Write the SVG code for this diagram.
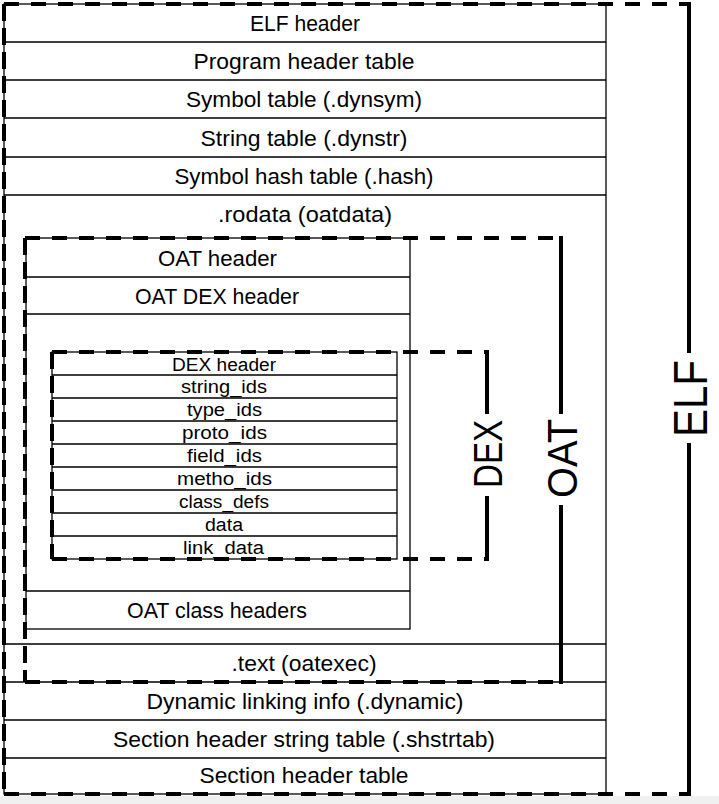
<svg xmlns="http://www.w3.org/2000/svg" width="719" height="804" viewBox="0 0 719 804">
<style>
  .t { font-family: "Liberation Sans", Arial, sans-serif; font-size: 22px; fill: #000; text-anchor: middle; }
  .s { font-family: "Liberation Sans", Arial, sans-serif; font-size: 18px; fill: #000; text-anchor: middle; }
  .lbl { font-family: "Liberation Sans", Arial, sans-serif; fill: #000; text-anchor: middle; }
  .thin { stroke: #000; stroke-width: 1.3; fill: none; }
  .dh { stroke: #000; stroke-width: 4; fill: none; stroke-dasharray: 15 12; }
  .dv { stroke: #000; stroke-width: 4; fill: none; stroke-dasharray: 17 7; }
  .solid { stroke: #000; stroke-width: 4; fill: none; stroke-linecap: square; }
</style>
<rect x="0" y="0" width="719" height="804" fill="#ffffff"/>
<rect x="0" y="796" width="719" height="8" fill="#f0f0f0"/>

<g id="elf-table">
  <rect x="4" y="4" width="602" height="790" fill="#ffffff" class="thin"/>
  <path class="thin" d="M4 42H606M4 80H606M4 118H606M4 157H606M4 195H606M4 644H606M4 682H606M4 720H606M4 758H606"/>
  <text class="t" x="305" y="31" textLength="110" lengthAdjust="spacingAndGlyphs">ELF header</text>
  <text class="t" x="304" y="69" textLength="221" lengthAdjust="spacingAndGlyphs">Program header table</text>
  <text class="t" x="304" y="107" textLength="236" lengthAdjust="spacingAndGlyphs">Symbol table (.dynsym)</text>
  <text class="t" x="304" y="145.5" textLength="207" lengthAdjust="spacingAndGlyphs">String table (.dynstr)</text>
  <text class="t" x="304" y="184" textLength="259" lengthAdjust="spacingAndGlyphs">Symbol hash table (.hash)</text>
  <text class="t" x="305" y="222" textLength="174" lengthAdjust="spacingAndGlyphs">.rodata (oatdata)</text>
  <text class="t" x="304" y="671" textLength="145" lengthAdjust="spacingAndGlyphs">.text (oatexec)</text>
  <text class="t" x="305" y="709" textLength="317" lengthAdjust="spacingAndGlyphs">Dynamic linking info (.dynamic)</text>
  <text class="t" x="304" y="747" textLength="382" lengthAdjust="spacingAndGlyphs">Section header string table (.shstrtab)</text>
  <text class="t" x="304" y="783" textLength="209" lengthAdjust="spacingAndGlyphs">Section header table</text>
</g>

<g id="oat-block">
  <rect x="26" y="238" width="384" height="391" fill="#d9d9d9" class="thin"/>
  <path class="thin" d="M26 277H410M26 314H410M26 591H410"/>
  <text class="t" x="217.5" y="265.5" textLength="119" lengthAdjust="spacingAndGlyphs">OAT header</text>
  <text class="t" x="217" y="303.5" textLength="164" lengthAdjust="spacingAndGlyphs">OAT DEX header</text>
  <text class="t" x="217" y="618" textLength="180" lengthAdjust="spacingAndGlyphs">OAT class headers</text>
</g>

<g id="dex-block">
  <rect x="52" y="352" width="345" height="207" fill="#bfbfbf" class="thin"/>
  <path class="thin" d="M52 375H397M52 398H397M52 421H397M52 444H397M52 467H397M52 490H397M52 513H397M52 536H397"/>
  <text class="s" x="224" y="371" textLength="104" lengthAdjust="spacingAndGlyphs">DEX header</text>
  <text class="s" x="224" y="393" textLength="86" lengthAdjust="spacingAndGlyphs">string_ids</text>
  <text class="s" x="224.5" y="416" textLength="75" lengthAdjust="spacingAndGlyphs">type_ids</text>
  <text class="s" x="224.5" y="439" textLength="85" lengthAdjust="spacingAndGlyphs">proto_ids</text>
  <text class="s" x="224.5" y="462" textLength="75" lengthAdjust="spacingAndGlyphs">field_ids</text>
  <text class="s" x="224.5" y="485" textLength="95" lengthAdjust="spacingAndGlyphs">metho_ids</text>
  <text class="s" x="224" y="508" textLength="90" lengthAdjust="spacingAndGlyphs">class_defs</text>
  <text class="s" x="224" y="531" textLength="38" lengthAdjust="spacingAndGlyphs">data</text>
  <text class="s" x="223.5" y="554" textLength="81" lengthAdjust="spacingAndGlyphs">link_data</text>
</g>

<g id="connectors">
  <g id="elf-bracket">
    <line class="dh" x1="4" y1="4" x2="689" y2="4"/>
    <line class="dh" x1="4" y1="794" x2="689" y2="794"/>
    <line class="dv" x1="4" y1="4" x2="4" y2="794"/>
    <line class="solid" x1="689" y1="4" x2="689" y2="351"/>
    <line class="solid" x1="689" y1="445" x2="689" y2="794"/>
    <text class="lbl" transform="translate(689.5,398.5) rotate(-90)" x="0" y="17.5" font-size="49" textLength="77" lengthAdjust="spacingAndGlyphs">ELF</text>
  </g>
  <g id="oat-bracket">
    <line class="dh" x1="25" y1="238" x2="561" y2="238"/>
    <line class="dh" x1="25" y1="682" x2="561" y2="682"/>
    <line class="dv" x1="25" y1="238" x2="25" y2="682"/>
    <line class="solid" x1="561" y1="238" x2="561" y2="412"/>
    <line class="solid" x1="561" y1="507" x2="561" y2="682"/>
    <text class="lbl" transform="translate(561,458.5) rotate(-90)" x="0" y="15.5" font-size="43" textLength="79" lengthAdjust="spacingAndGlyphs">OAT</text>
  </g>
  <g id="dex-bracket">
    <line class="dh" x1="52" y1="352" x2="487" y2="352"/>
    <line class="dh" x1="52" y1="559" x2="487" y2="559"/>
    <line class="dv" x1="52" y1="352" x2="52" y2="559"/>
    <line class="solid" x1="487" y1="352" x2="487" y2="412"/>
    <line class="solid" x1="487" y1="498" x2="487" y2="559"/>
    <text class="lbl" transform="translate(487.5,454) rotate(-90)" x="0" y="14.5" font-size="40" textLength="68" lengthAdjust="spacingAndGlyphs">DEX</text>
  </g>
</g>
</svg>
